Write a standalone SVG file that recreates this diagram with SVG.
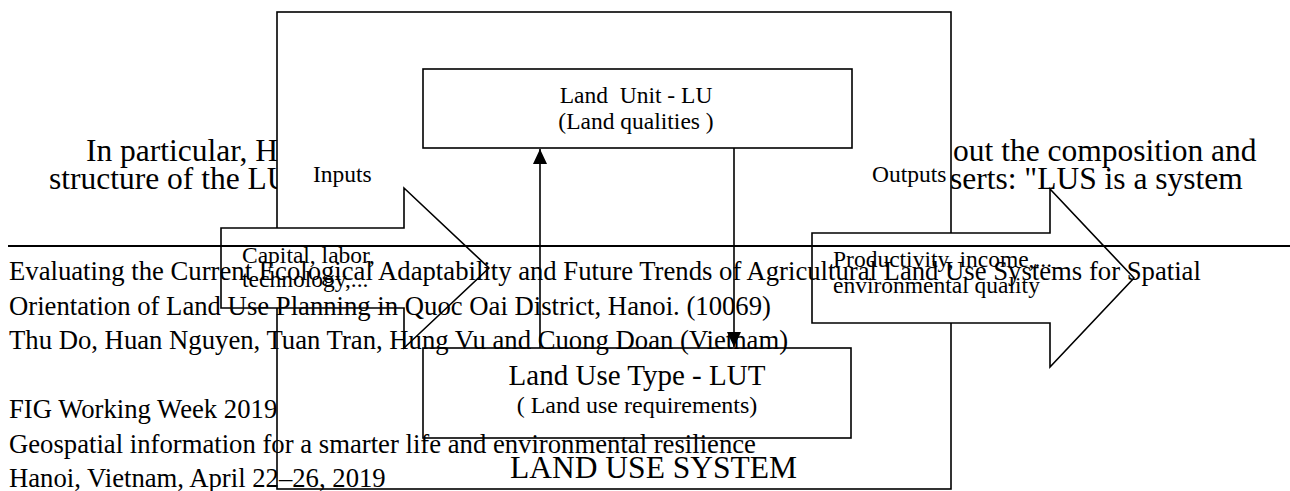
<svg xmlns="http://www.w3.org/2000/svg" width="1290" height="491" viewBox="0 0 1290 491">
<style>
text{font-family:"Liberation Serif","Times New Roman",serif;fill:#000}
.box{fill:#fff;stroke:#000;stroke-width:1.6}
.conn{stroke:#000;stroke-width:1.6;fill:none}
.body{font-size:31.5px}
.foot{font-size:26.7px}
.lbl{font-size:23.5px}
.mid{text-anchor:middle}
</style>
<defs>
<marker id="ah" viewBox="0 0 15 14" refX="15" refY="7" markerWidth="15" markerHeight="14" markerUnits="userSpaceOnUse" orient="auto">
<path d="M0,0 L15,7 L0,14 Z" fill="#000"/>
</marker>
</defs>

<g id="body-text">
<text class="body" x="86" y="161">In particular, H</text>
<text class="body" x="49" y="189">structure of the LU</text>
<text class="body" x="953" y="161">out the composition and</text>
<text class="body" x="950" y="189">serts: "LUS is a system</text>
</g>

<g id="land-use-system">
<rect class="box" x="277" y="12" width="674" height="477"/>
<text x="510" y="478" style="font-size:31.5px">LAND USE SYSTEM</text>
</g>

<g id="land-unit">
<rect class="box" x="423" y="69" width="429" height="79"/>
<text class="lbl mid" x="636" y="103" xml:space="preserve">Land  Unit - LU</text>
<text class="lbl mid" x="636" y="129">(Land qualities )</text>
</g>

<g id="land-use-type">
<rect class="box" x="423" y="348" width="428" height="90"/>
<text class="mid" x="637" y="385" style="font-size:29px">Land Use Type - LUT</text>
<text class="mid" x="637" y="413" style="font-size:24px">( Land use requirements)</text>
</g>

<g id="connectors">
<line class="conn" x1="540" y1="348" x2="540" y2="149" marker-end="url(#ah)"/>
<line class="conn" x1="734" y1="148" x2="734" y2="347" marker-end="url(#ah)"/>
</g>

<g id="inputs">
<text class="lbl" x="313" y="182">Inputs</text>
<path class="box" d="M221,228 H404 V188 L489,268 L404,348 V308 H221 Z"/>
<text class="lbl" x="242" y="263">Capital, labor,</text>
<text class="lbl" x="242" y="287">technology,...</text>
</g>

<g id="outputs">
<text class="lbl" x="872" y="182">Outputs</text>
<path class="box" d="M812,233 H1050 V189 L1134,278 L1050,367 V323 H812 Z"/>
<text class="lbl" x="833" y="267">Productivity, income,...</text>
<text class="lbl" x="833" y="293">environmental quality</text>
</g>

<g id="page-footer">
<line x1="8" y1="246" x2="1290" y2="246" stroke="#000" stroke-width="2"/>
<text class="foot" x="9" y="280">Evaluating the Current Ecological Adaptability and Future Trends of Agricultural Land Use Systems for Spatial</text>
<text class="foot" x="9" y="314.5">Orientation of Land Use Planning in Quoc Oai District, Hanoi. (10069)</text>
<text class="foot" x="9" y="349">Thu Do, Huan Nguyen, Tuan Tran, Hung Vu and Cuong Doan (Vietnam)</text>
<text class="foot" x="9" y="418">FIG Working Week 2019</text>
<text class="foot" x="9" y="452.5">Geospatial information for a smarter life and environmental resilience</text>
<text class="foot" x="9" y="487">Hanoi, Vietnam, April 22–26, 2019</text>
</g>
</svg>
